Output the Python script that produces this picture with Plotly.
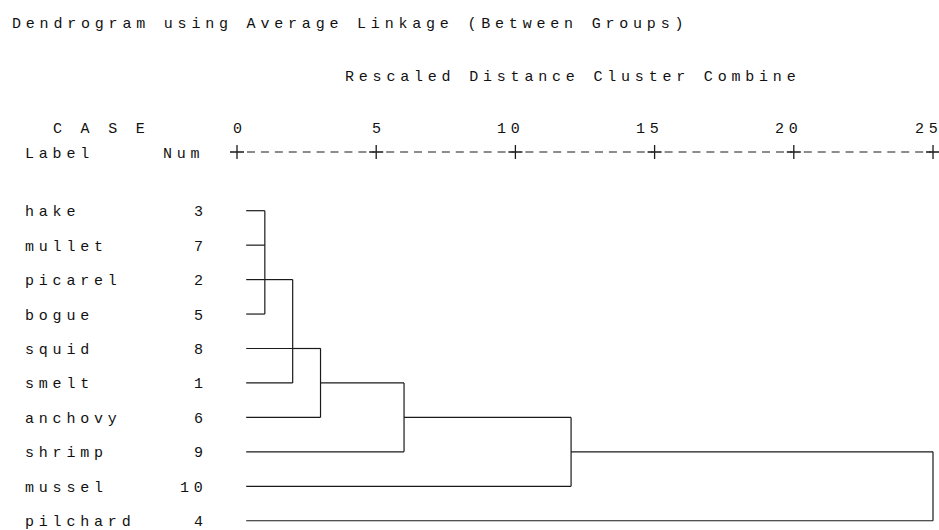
import plotly.graph_objects as go

# ---------------- data ----------------
labels = ["hake", "mullet", "picarel", "bogue", "squid",
          "smelt", "anchovy", "shrimp", "mussel", "pilchard"]
case_nums = [3, 7, 2, 5, 8, 1, 6, 9, 10, 4]

# merges, in order of rescaled distance
merge_heights = [1, 2, 3, 6, 12, 25]
merge_top_rows = [0, 2, 4, 5, 6, 7]
merge_bottom_rows = [3, 5, 6, 7, 8, 9]
merge_out_rows = [2, 4, 5, 6, 7, None]     # row that carries the merged cluster on
merge_parent = [1, 2, 3, 4, 5, None]       # merge that absorbs it next
leaf_merge = [0, 0, 0, 0, 2, 1, 2, 3, 4, 5]  # first merge for each leaf row

tick_values = [0, 5, 10, 15, 20, 25]
tick_labels = ["0", "5", "10", "15", "20", "25"]

title_text = "Dendrogram using Average Linkage (Between Groups)"
axis_title = "Rescaled Distance Cluster Combine"

# ---------------- layout constants ----------------
W, H = 939, 530
X0_PX, PX_PER_UNIT = 237.0, 27.84
ROW0_PX, ROW_PX = 210.7, 34.45
LEAF_START = 0.33
FONT = "Liberation Mono, Courier New, monospace"
FS = 15
LS = 4.8
LINE_COLOR = "#1a1a1a"

x_range = [-X0_PX / PX_PER_UNIT, (W - X0_PX) / PX_PER_UNIT]
y_range = [(H - ROW0_PX) / ROW_PX, -ROW0_PX / ROW_PX]


def sp(t):
    # wide monospace cells: spacing between characters, none after the last one
    if len(t) < 2:
        return t
    return '<span style="letter-spacing:%.2fpx">%s</span>%s' % (LS, t[:-1], t[-1])


# ---------------- dendrogram segments ----------------
xs, ys = [], []
for r, m in enumerate(leaf_merge):
    xs += [LEAF_START, merge_heights[m], None]
    ys += [r, r, None]
for h, t, b, o, p in zip(merge_heights, merge_top_rows, merge_bottom_rows,
                         merge_out_rows, merge_parent):
    xs += [h, h, None]
    ys += [t, b, None]
    if o is not None:
        xs += [h, merge_heights[p], None]
        ys += [o, o, None]

fig = go.Figure()
fig.add_trace(go.Scatter(x=xs, y=ys, mode="lines",
                         line=dict(color=LINE_COLOR, width=1.2),
                         hoverinfo="skip", showlegend=False))

# ---------------- scale line "+---------+" ----------------
tick_y = (152 - ROW0_PX) / ROW_PX
dash_off = 10.0 / PX_PER_UNIT
dx, dy = [], []
for a, b in zip(tick_values[:-1], tick_values[1:]):
    dx += [a + dash_off, b - 2.0 / PX_PER_UNIT, None]
    dy += [tick_y, tick_y, None]
fig.add_trace(go.Scatter(x=dx, y=dy, mode="lines",
                         line=dict(color=LINE_COLOR, width=1.2, dash="8px,5.92px"),
                         hoverinfo="skip", showlegend=False))
fig.add_trace(go.Scatter(x=tick_values, y=[tick_y] * len(tick_values), mode="markers",
                         marker=dict(symbol="cross-thin", size=10,
                                     line=dict(color=LINE_COLOR, width=1.3)),
                         hoverinfo="skip", showlegend=False, cliponaxis=False))

# ---------------- text ----------------
ann = []
base = dict(showarrow=False, borderpad=0, borderwidth=0,
            font=dict(family=FONT, size=FS, color="#111"), yanchor="middle")


def paper_text(text, px, py, anchor="left"):
    ann.append(dict(base, text=sp(text), x=px / W, y=1 - py / H,
                    xref="paper", yref="paper", xanchor=anchor))


paper_text(title_text, 12, 24.3)
paper_text(axis_title, 345, 77.7)
paper_text("C A S E", 53, 130)
paper_text("Label", 25, 154.5)
paper_text("Num", 163, 154.5)

for v, t in zip(tick_values, tick_labels):
    ann.append(dict(base, text=sp(t), x=v, xref="x", y=1 - 130 / H, yref="paper",
                    xanchor="right", xshift=4.5))

for r, (lab, n) in enumerate(zip(labels, case_nums)):
    ann.append(dict(base, text=sp(lab), x=25 / W, xref="paper", y=r, yref="y",
                    xanchor="left", yshift=-2))
    ann.append(dict(base, text=sp(str(n)), x=203 / W, xref="paper", y=r, yref="y",
                    xanchor="right", yshift=-2))

fig.update_layout(
    width=W, height=H,
    margin=dict(l=0, r=0, t=0, b=0),
    paper_bgcolor="white", plot_bgcolor="white",
    xaxis=dict(range=x_range, visible=False, fixedrange=True),
    yaxis=dict(range=y_range, visible=False, fixedrange=True),
    annotations=ann,
    showlegend=False,
)

# the page's default 8px body margin would push the 939x530 figure past the window
fig.write_html("out.html",
               config={"displayModeBar": False, "staticPlot": True},
               post_script="document.body.style.margin='0';"
                           "document.body.style.overflow='hidden';")
